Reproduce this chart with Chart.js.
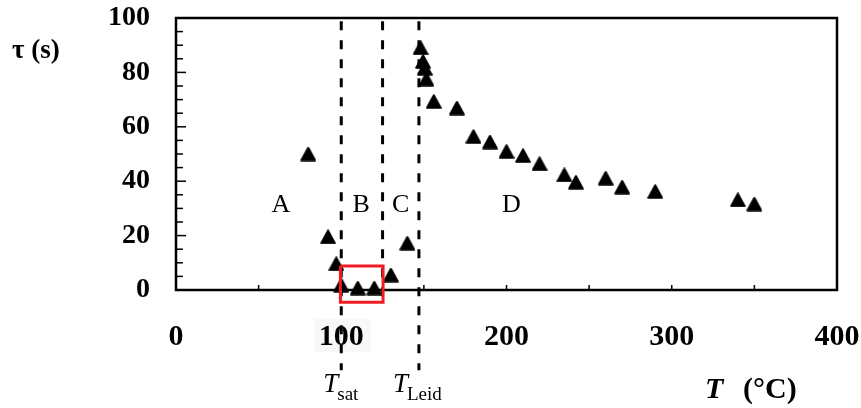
<!DOCTYPE html>
<html>
<head>
<meta charset="utf-8">
<script src="https://cdn.jsdelivr.net/npm/chart.js@4/dist/chart.umd.min.js"></script>
<style>
  body { margin: 0; background: #fff; }
</style>
</head>
<body>
<canvas id="myChart" width="861" height="408"></canvas>
<script>
// relaxation time tau against wall temperature T
var tempC = [80, 92, 97, 100, 110, 120, 130, 140, 148, 149.5, 150.5, 151.5, 156, 170, 180, 190, 200, 210, 220, 235, 242, 260, 270, 290, 340, 350];
var tau   = [50, 19.5, 9.6, 1.8, 0.7, 0.7, 5.5, 17.2, 89, 84, 81.5, 77.5, 69.3, 66.9, 56.4, 54.4, 50.9, 49.4, 46.4, 42.3, 39.6, 41.1, 37.8, 36.2, 33.1, 31.6];

// regime boundaries (°C) and how far the dashed lines run (s)
var tSat = 100;
var tMid = 125;
var tLeid = 147;
var boundaryTop = 98.8;
var boundaryLow = [-29.5, -3.5, -29.5];

// highlighted box around the boiling-plateau points
var boxX = [99.5, 125.3];
var boxY = [-4.5, 8.8];

// regime letters
var regions = ['A', 'B', 'C', 'D'];
var regionX = [63.5, 112, 136, 203];
var regionY = 31.3;

var xTicks = [0, 100, 200, 300, 400];
var yTicks = [0, 20, 40, 60, 80, 100];

var serif = "'Liberation Serif', 'Times New Roman', serif";

// solid triangle with rounded corners for the markers
function triangleMark() {
    var c = document.createElement('canvas');
    c.width = 16; c.height = 15;
    var g = c.getContext('2d');
    g.fillStyle = '#000';
    g.strokeStyle = '#000';
    g.lineWidth = 2;
    g.lineJoin = 'round';
    g.beginPath();
    g.moveTo(8, 1.2);
    g.lineTo(14.8, 13.8);
    g.lineTo(1.2, 13.8);
    g.closePath();
    g.fill();
    g.stroke();
    return c;
}

function dashed(x, low) {
    return {
        type: 'line',
        data: [{x: x, y: boundaryTop}, {x: x, y: low}],
        borderColor: '#000',
        borderWidth: 3,
        borderDash: [9, 10],
        pointRadius: 0,
        showLine: true,
        clip: false
    };
}

// no extra room for labels that stick out past the plot edges
function noOverflow(scale) {
    scale.paddingTop = 0;
    scale.paddingBottom = 0;
    scale.paddingLeft = 0;
    scale.paddingRight = 0;
}

var boxPts = [
    {x: boxX[0], y: boxY[1]}, {x: boxX[1], y: boxY[1]},
    {x: boxX[1], y: boxY[0]}, {x: boxX[0], y: boxY[0]},
    {x: boxX[0], y: boxY[1]}
];

// frame, inward tick marks and free text
var decorations = {
    id: 'decorations',
    beforeDraw: function(chart) {
        var ctx = chart.ctx;
        ctx.save();
        ctx.fillStyle = '#f8f8f8';
        ctx.fillRect(314, 319, 57, 33);
        ctx.restore();
    },
    beforeDatasetsDraw: function(chart) {
        var ctx = chart.ctx, a = chart.chartArea;
        var xs = chart.scales.x, ys = chart.scales.y;
        ctx.save();
        ctx.strokeStyle = '#000';
        ctx.lineWidth = 1.5;
        for (var v = 5; v < 100; v += 5) {
            var py = ys.getPixelForValue(v);
            ctx.beginPath();
            ctx.moveTo(a.left, py);
            ctx.lineTo(a.left + (v % 20 === 0 ? 10 : 7), py);
            ctx.stroke();
        }
        for (var t = 50; t < 400; t += 50) {
            var px = xs.getPixelForValue(t);
            ctx.beginPath();
            ctx.moveTo(px, a.bottom);
            ctx.lineTo(px, a.bottom - 5);
            ctx.stroke();
        }
        ctx.lineWidth = 2.5;
        ctx.strokeRect(a.left, a.top, a.right - a.left, a.bottom - a.top);
        ctx.restore();
    },
    afterDraw: function(chart) {
        var ctx = chart.ctx;
        var xs = chart.scales.x, ys = chart.scales.y;
        ctx.save();
        ctx.fillStyle = '#000';
        ctx.textBaseline = 'middle';
        ctx.textAlign = 'center';
        ctx.font = '26px ' + serif;
        for (var i = 0; i < regions.length; i++) {
            ctx.fillText(regions[i], xs.getPixelForValue(regionX[i]), ys.getPixelForValue(regionY));
        }

        ctx.textAlign = 'left';
        ctx.textBaseline = 'alphabetic';
        // T_sat and T_Leid under their dashed lines
        var subs = [['sat', tSat, 18], ['Leid', tLeid, 26]];
        subs.forEach(function(s) {
            var x0 = xs.getPixelForValue(s[1]) - s[2];
            ctx.font = 'italic 27px ' + serif;
            ctx.fillText('T', x0, 392);
            var w = ctx.measureText('T').width;
            ctx.font = '19px ' + serif;
            ctx.fillText(s[0], x0 + w - 1, 400);
        });

        // axis titles
        ctx.font = 'bold italic 30px ' + serif;
        ctx.fillText('T', 705, 398);
        ctx.font = 'bold 30px ' + serif;
        ctx.fillText('(°C)', 743, 398);

        ctx.font = 'bold 27px ' + serif;
        ctx.fillText('τ (s)', 12, 58);
        ctx.restore();
    }
};

var ctx = document.getElementById('myChart').getContext('2d');
var myChart = new Chart(ctx, {
    type: 'scatter',
    data: {
        datasets: [
            {
                type: 'line',
                data: boxPts,
                borderColor: '#ee1d23',
                borderWidth: 3,
                pointRadius: 0,
                showLine: true,
                clip: false
            },
            {
                data: tempC.map(function(t, i) { return {x: t, y: tau[i]}; }),
                pointStyle: triangleMark(),
                pointRadius: 8,
                clip: false
            },
            dashed(tSat, boundaryLow[0]),
            dashed(tMid, boundaryLow[1]),
            dashed(tLeid, boundaryLow[2])
        ]
    },
    options: {
        responsive: false,
        animation: false,
        layout: { padding: { top: 18, right: 24, left: 0, bottom: 0 } },
        plugins: {
            legend: { display: false },
            tooltip: { enabled: false }
        },
        scales: {
            x: {
                type: 'linear',
                min: 0,
                max: 400,
                afterFit: function(scale) { scale.height = 118; noOverflow(scale); },
                afterBuildTicks: function(scale) {
                    scale.ticks = xTicks.map(function(v) { return {value: v}; });
                },
                grid: { display: false, drawTicks: false },
                border: { display: false },
                ticks: {
                    padding: 29,
                    color: '#000',
                    maxRotation: 0,
                    font: { family: serif, size: 30, weight: 'bold' }
                }
            },
            y: {
                min: 0,
                max: 100,
                afterFit: function(scale) { scale.width = 176; noOverflow(scale); },
                afterBuildTicks: function(scale) {
                    scale.ticks = yTicks.map(function(v) { return {value: v}; });
                },
                grid: { display: false, drawTicks: false },
                border: { display: false },
                ticks: {
                    padding: 26,
                    color: '#000',
                    font: { family: serif, size: 28, weight: 'bold' }
                }
            }
        }
    },
    plugins: [decorations]
});
</script>
</body>
</html>
